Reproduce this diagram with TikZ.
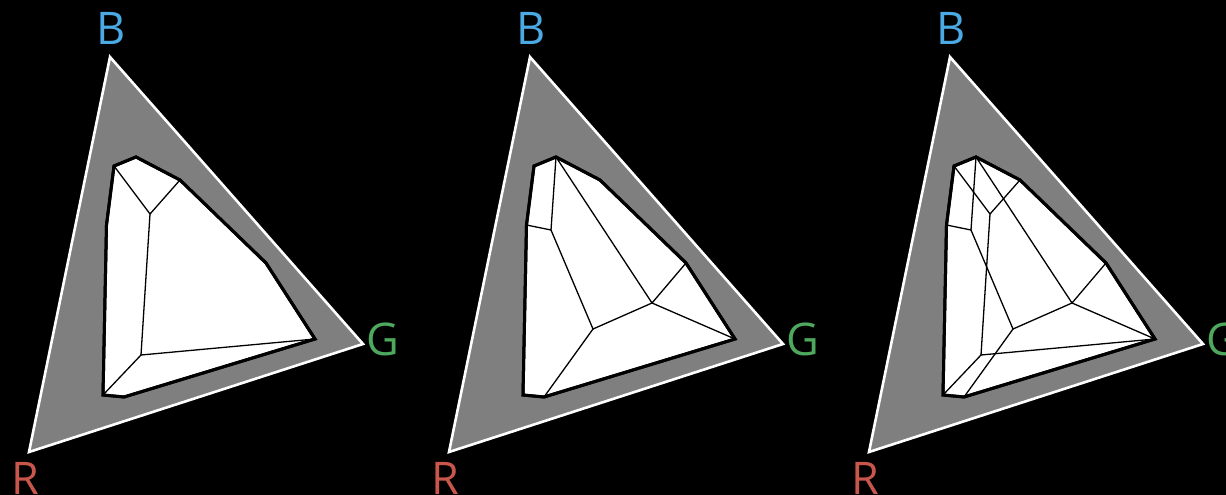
\documentclass[tikz,border=0pt]{standalone}
\usepackage{fontspec}
\setmainfont{Open Sans}
\definecolor{trigray}{HTML}{7F7F7F}
\definecolor{cB}{HTML}{4BA9E3}
\definecolor{cG}{HTML}{4EA95E}
\definecolor{cR}{HTML}{C9564B}
\tikzset{
  outertri/.style={fill=trigray, draw=white, line width=2.6pt, line join=miter},
  gamut/.style={fill=white, draw=black, line width=3pt, line join=miter},
  edge/.style={draw=black, line width=1.3pt, line cap=round},
  lbl/.style={font=\fontsize{45}{45}\selectfont, anchor=base, inner sep=0pt},
}
\newcommand{\panelbase}[2]{%
  \begin{scope}[shift={(#2,0)}]
    \coordinate (#1B) at (110,57);
    \coordinate (#1R) at (29,452);
    \coordinate (#1G) at (363,344);
    \coordinate (#1P1) at (114,166);
    \coordinate (#1P2) at (136,157);
    \coordinate (#1P3) at (180,180);
    \coordinate (#1P4) at (266,263);
    \coordinate (#1P5) at (315,339);
    \coordinate (#1P6) at (124,397);
    \coordinate (#1P7) at (103,395);
    \coordinate (#1P8) at (106.5,225);
    \coordinate (#1Q1) at (150,214);
    \coordinate (#1Q2) at (141,355);
    \coordinate (#1Q3) at (131,230);
    \coordinate (#1Q4) at (173,329);
    \coordinate (#1Q5) at (232,303);
    \node[lbl, text=cB] (#1lB) at (111.5,45) {B};
    \node[lbl, text=cG] (#1lG) at (383,355) {G};
    \node[lbl, text=cR] (#1lR) at (25,494) {R};
  \end{scope}
  \path[outertri] (#1B) -- (#1G) -- (#1R) -- cycle;
  \path[gamut] (#1P1) -- (#1P2) -- (#1P3) -- (#1P4) -- (#1P5) -- (#1P6) -- (#1P7) -- (#1P8) -- cycle;
}
\newcommand{\linesA}[1]{%
  \draw[edge] (#1P1) -- (#1Q1);
  \draw[edge] (#1P3) -- (#1Q1);
  \draw[edge] (#1Q1) -- (#1Q2);
  \draw[edge] (#1Q2) -- (#1P5);
  \draw[edge] (#1Q2) -- (#1P7);
}
\newcommand{\linesB}[1]{%
  \draw[edge] (#1P2) -- (#1Q3);
  \draw[edge] (#1P8) -- (#1Q3);
  \draw[edge] (#1Q3) -- (#1Q4);
  \draw[edge] (#1Q4) -- (#1P6);
  \draw[edge] (#1Q4) -- (#1Q5);
  \draw[edge] (#1Q5) -- (#1P4);
  \draw[edge] (#1Q5) -- (#1P5);
  \draw[edge] (#1P2) -- (#1Q5);
}
\begin{document}
\begin{tikzpicture}[x=1pt, y=-1pt]
  \useasboundingbox (0,0) rectangle (1226,495);
  \fill[black] (0,0) rectangle (1226,495);
  \panelbase{a}{0}
  \panelbase{b}{420}
  \panelbase{c}{840}
  \linesA{a}
  \linesB{b}
  \linesA{c}
  \linesB{c}
  % redraw gamut outlines on top
  \foreach \p in {a,b,c} {
    \draw[black, line width=3pt, line join=miter] (\p P1) -- (\p P2) -- (\p P3) -- (\p P4) -- (\p P5) -- (\p P6) -- (\p P7) -- (\p P8) -- cycle;
  }
\end{tikzpicture}
\end{document}
